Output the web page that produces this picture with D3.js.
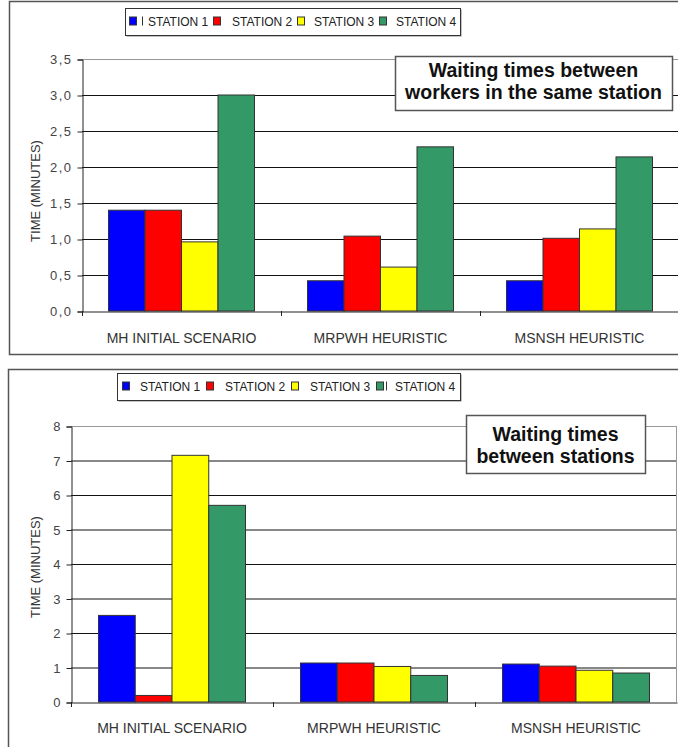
<!DOCTYPE html>
<html><head><meta charset="utf-8">
<script src="https://cdn.jsdelivr.net/npm/d3@7"></script>
<style>body{margin:0;background:#fff}svg{display:block;font-family:"Liberation Sans",Arial,sans-serif}</style>
</head><body><svg id="c" width="678" height="747"></svg>
<script>
const categories = ["MH INITIAL SCENARIO", "MRPWH HEURISTIC", "MSNSH HEURISTIC"];
const seriesNames = ["STATION 1", "STATION 2", "STATION 3", "STATION 4"];
const colors = ["#0000ff", "#ff0000", "#ffff00", "#339966"];
// top chart: waiting times between workers in the same station
const workersStation1 = [1.40, 0.42, 0.42];
const workersStation2 = [1.40, 1.04, 1.01];
const workersStation3 = [0.96, 0.61, 1.14];
const workersStation4 = [3.00, 2.28, 2.14];
const workersTicks = [0, 0.5, 1, 1.5, 2, 2.5, 3, 3.5];
// bottom chart: waiting times between stations
const stationsStation1 = [2.51, 1.13, 1.10];
const stationsStation2 = [0.19, 1.13, 1.04];
const stationsStation3 = [7.15, 1.03, 0.92];
const stationsStation4 = [5.70, 0.77, 0.84];
const stationsTicks = [0, 1, 2, 3, 4, 5, 6, 7, 8];

const svg = d3.select("#c");
const FF = "'Liberation Sans',Arial,sans-serif";

function panel(cfg) {
  const g = svg.append("g");
  g.append("rect").attr("x", cfg.frame[0]).attr("y", cfg.frame[1])
    .attr("width", cfg.frame[2]).attr("height", cfg.frame[3])
    .attr("fill", "#fff").attr("stroke", "#555").attr("stroke-width", 1.5);

  const x = d3.scaleBand().domain(categories).range([cfg.left, cfg.right]);
  const x1 = d3.scaleBand().domain(seriesNames).range([0, cfg.groupW]);
  const y = d3.scaleLinear().domain([0, cfg.max]).range([cfg.bottom, cfg.top]);

  // gridlines
  g.append("g").selectAll("line").data(cfg.ticks.filter(t => t > 0)).join("line")
    .attr("x1", cfg.left).attr("x2", cfg.right)
    .attr("y1", d => y(d) + 0.5).attr("y2", d => y(d) + 0.5)
    .attr("stroke", d => d === cfg.max ? "#999" : "#111").attr("stroke-width", 1);
  g.append("line").attr("x1", cfg.right - 0.5).attr("x2", cfg.right - 0.5)
    .attr("y1", cfg.top).attr("y2", cfg.bottom).attr("stroke", "#999");

  // bars
  const rows = categories.map((c, i) => ({ c, vals: cfg.series.map(s => s[i]) }));
  const grp = g.append("g").selectAll("g").data(rows).join("g")
    .attr("transform", d => `translate(${x(d.c) + (x.bandwidth() - cfg.groupW) / 2},0)`);
  grp.selectAll("rect").data(d => d.vals.map((v, k) => ({ v, k }))).join("rect")
    .attr("x", d => x1(seriesNames[d.k]))
    .attr("y", d => y(d.v))
    .attr("width", x1.bandwidth())
    .attr("height", d => y(0) - y(d.v))
    .attr("fill", d => colors[d.k])
    .attr("stroke", "#333").attr("stroke-width", 1);

  // y axis
  const ya = g.append("g").attr("transform", `translate(${cfg.left + 0.5},0.5)`)
    .call(d3.axisLeft(y).tickValues(cfg.ticks).tickSize(5).tickPadding(cfg.yPad)
      .tickFormat(cfg.fmt));
  ya.select(".domain").attr("stroke", "#222");
  ya.selectAll(".tick line").attr("stroke", "#222");
  ya.selectAll("text").attr("font-size", cfg.yFont).attr("fill", "#444")
    .attr("letter-spacing", cfg.yLs).attr("font-family", FF);

  // x axis
  const xa = g.append("g").attr("transform", `translate(0,${cfg.bottom + 0.5})`)
    .call(d3.axisBottom(x).tickSize(0).tickPadding(cfg.xPad));
  xa.select(".domain").attr("stroke", "#222");
  xa.selectAll("text").attr("font-size", 14).attr("fill", "#333")
    .attr("font-family", FF);
  g.append("g").selectAll("line").data(categories.slice(1)).join("line")
    .attr("x1", d => Math.round(x(d)) + 0.5).attr("x2", d => Math.round(x(d)) + 0.5)
    .attr("y1", cfg.bottom).attr("y2", cfg.bottom + 5).attr("stroke", "#222");
  g.append("line").attr("x1", cfg.left + 0.5).attr("x2", cfg.left + 0.5)
    .attr("y1", cfg.bottom).attr("y2", cfg.bottom + 5).attr("stroke", "#222");

  // y title
  g.append("text").attr("transform", `translate(${cfg.titleX},${cfg.titleY}) rotate(-90)`)
    .attr("text-anchor", "middle").attr("font-size", 13).attr("fill", "#333")
    .text("TIME (MINUTES)");

  // legend
  const L = cfg.legend;
  g.append("rect").attr("x", L.x + 1.5).attr("y", L.y + 1.5).attr("width", L.w).attr("height", L.h)
    .attr("fill", "#888");
  g.append("rect").attr("x", L.x + 0.5).attr("y", L.y + 0.5).attr("width", L.w).attr("height", L.h)
    .attr("fill", "#fff").attr("stroke", "#333");
  seriesNames.forEach((s, k) => {
    g.append("rect").attr("x", L.sw[k] + 0.5).attr("y", L.y + L.h / 2 - 4.5).attr("width", 7).attr("height", 8)
      .attr("fill", colors[k]).attr("stroke", "#333");
    g.append("text").attr("x", L.tx[k]).attr("y", L.y + L.h / 2 + 4.5)
      .attr("font-size", 12).attr("fill", "#222").text(s);
  });
  if (L.bar !== undefined) {
    g.append("line").attr("x1", L.bar + 0.5).attr("x2", L.bar + 0.5)
      .attr("y1", L.y + L.h / 2 - 5).attr("y2", L.y + L.h / 2 + 4).attr("stroke", "#333");
  }

  // title box
  const T = cfg.tbox;
  g.append("rect").attr("x", T.x + 0.5).attr("y", T.y + 0.5).attr("width", T.w).attr("height", T.h)
    .attr("fill", "#fff").attr("stroke", "#555").attr("stroke-width", 1.5);
  T.lines.forEach((t, i) => {
    g.append("text").attr("x", T.x + T.w / 2).attr("y", T.y + T.base + i * T.lh)
      .attr("text-anchor", "middle").attr("font-size", 19.5).attr("font-weight", "bold")
      .attr("fill", "#111").text(t);
  });
}

panel({
  frame: [9.5, 1.5, 680, 353],
  left: 82, right: 679, top: 59, bottom: 311, max: 3.5,
  groupW: 146, ticks: workersTicks,
  fmt: d => d3.format(".1f")(d).replace(".", ","), yFont: 13, yLs: 1.5, yPad: 5,
  titleX: 40, titleY: 191, xPad: 22,
  series: [workersStation1, workersStation2, workersStation3, workersStation4],
  legend: { x: 125, y: 8, w: 335, h: 27, sw: [129, 213, 297, 379], tx: [148, 232, 314, 396], bar: 142 },
  tbox: { x: 395, y: 56, w: 277, h: 54, base: 21, lh: 22,
    lines: ["Waiting times between", "workers in the same station"] }
});

panel({
  frame: [8.5, 369.5, 680, 390],
  left: 71, right: 677, top: 426, bottom: 702, max: 8,
  groupW: 147, ticks: stationsTicks,
  fmt: d3.format("d"), yFont: 13, yLs: 0, yPad: 6,
  titleX: 40, titleY: 567, xPad: 21,
  series: [stationsStation1, stationsStation2, stationsStation3, stationsStation4],
  legend: { x: 117, y: 373, w: 343, h: 27, sw: [122, 206, 291, 376], tx: [140, 225, 310, 395], bar: 386 },
  tbox: { x: 466, y: 415, w: 179, h: 58, base: 26, lh: 22,
    lines: ["Waiting times", "between stations"] }
});
</script></body></html>
